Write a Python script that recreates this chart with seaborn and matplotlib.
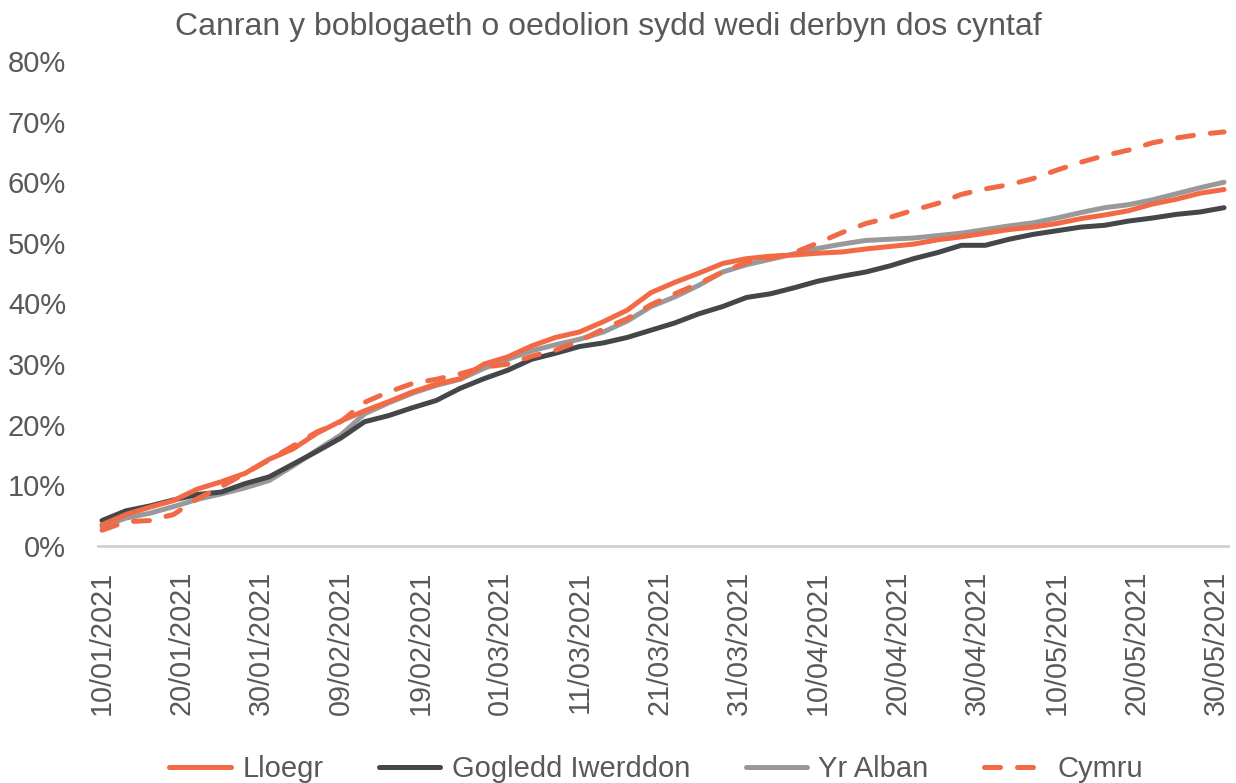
import matplotlib
matplotlib.use("Agg")
import matplotlib.pyplot as plt
import seaborn as sns
import pandas as pd

# ---- data (every 3 days from 10/01/2021) ----
start_date = "2021-01-10"
step_days = 3
lloegr = [3.5, 5.2, 6.4, 7.5, 9.4, 10.6, 12.0, 14.3, 16.0, 18.6, 20.6, 22.3, 23.8, 25.4, 26.7, 27.6,
          30.0, 31.2, 33.0, 34.4, 35.3, 37.0, 38.9, 41.8, 43.5, 45.0, 46.6, 47.4, 47.8, 48.0, 48.3, 48.5,
          49.0, 49.4, 49.8, 50.5, 51.0, 51.6, 52.2, 52.6, 53.2, 54.0, 54.6, 55.3, 56.4, 57.2, 58.2, 58.8]
gogledd_iwerddon = [4.2, 5.8, 6.6, 7.6, 8.5, 8.9, 10.3, 11.4, 13.5, 15.6, 17.8, 20.5, 21.5, 22.8, 24.0, 26.0,
                    27.6, 29.0, 30.8, 31.8, 32.9, 33.5, 34.4, 35.6, 36.8, 38.3, 39.5, 41.0, 41.6, 42.6, 43.7, 44.5,
                    45.2, 46.2, 47.4, 48.4, 49.6, 49.6, 50.6, 51.4, 52.0, 52.6, 52.9, 53.6, 54.1, 54.7, 55.1, 55.8]
yr_alban = [3.2, 4.6, 5.4, 6.5, 7.7, 8.6, 9.6, 10.8, 13.2, 15.8, 18.3, 21.8, 23.6, 25.2, 26.5, 27.5,
            29.3, 30.8, 32.2, 33.2, 34.1, 35.3, 37.1, 39.5, 41.1, 43.0, 45.2, 46.4, 47.3, 48.2, 49.1, 49.8,
            50.4, 50.6, 50.8, 51.2, 51.6, 52.2, 52.8, 53.3, 54.1, 55.0, 55.8, 56.3, 57.1, 58.1, 59.1, 60.0]
cymru = [2.6, 4.0, 4.2, 5.2, 7.8, 9.8, 12.0, 14.2, 16.5, 18.8, 20.5, 23.7, 25.4, 26.8, 27.5, 28.4,
         29.5, 30.0, 31.3, 32.3, 33.8, 35.8, 37.5, 39.8, 41.6, 43.3, 45.2, 46.8, 47.5, 48.4, 50.0, 51.7,
         53.2, 54.2, 55.4, 56.5, 58.0, 58.9, 59.6, 60.6, 62.0, 63.3, 64.4, 65.3, 66.5, 67.3, 67.9, 68.3]
series_names = ["Lloegr", "Gogledd Iwerddon", "Yr Alban", "Cymru"]
tick_labels = ["10/01/2021", "20/01/2021", "30/01/2021", "09/02/2021", "19/02/2021", "01/03/2021",
               "11/03/2021", "21/03/2021", "31/03/2021", "10/04/2021", "20/04/2021", "30/04/2021",
               "10/05/2021", "20/05/2021", "30/05/2021"]
y_ticks = [0, 10, 20, 30, 40, 50, 60, 70, 80]
title = "Canran y boblogaeth o oedolion sydd wedi derbyn dos cyntaf"

dates = pd.date_range(start_date, periods=len(lloegr), freq=f"{step_days}D")
frames = []
for name, vals in zip(series_names, [lloegr, gogledd_iwerddon, yr_alban, cymru]):
    frames.append(pd.DataFrame({"date": dates, "value": vals, "series": name}))
df = pd.concat(frames, ignore_index=True)

# ---- style ----
sns.set_theme(style="white")
plt.rcParams["font.family"] = ["Liberation Sans", "DejaVu Sans"]
text_col = "#595959"
colors = {"Lloegr": "#F26A45", "Gogledd Iwerddon": "#43474A", "Yr Alban": "#999999", "Cymru": "#F26A45"}
zorders = {"Lloegr": 4, "Gogledd Iwerddon": 3, "Yr Alban": 2, "Cymru": 5}

fig = plt.figure(figsize=(12.36, 7.83), dpi=100)
ax = fig.add_axes([98 / 1236, 1 - 546 / 783, (1228 - 98) / 1236, (546 - 61) / 783])

handles = {}
for name in series_names:
    sub = df[df["series"] == name]
    sns.lineplot(data=sub, x="date", y="value", ax=ax, color=colors[name], linewidth=3.6,
                 zorder=zorders[name], label=name, legend=False)
    ln = ax.lines[-1]
    ln.set_solid_capstyle("round")
    ln.set_solid_joinstyle("round")
    if name == "Cymru":
        ln.set_linestyle((0, (3.2, 3.4)))
        ln.set_dash_capstyle("round")
    handles[name] = ln

d0 = pd.Timestamp(start_date)
ax.set_xlim(d0 - pd.Timedelta(hours=12), d0 + pd.Timedelta(days=141.5))
ax.set_ylim(0, 80)

tick_dates = [pd.to_datetime(t, format="%d/%m/%Y") for t in tick_labels]
ax.set_xticks(tick_dates)
ax.set_xticklabels(tick_labels, rotation=90, fontsize=20.7, color=text_col)
minor = [d0 + pd.Timedelta(days=4.5 + 10 * k) for k in range(14)] + [d0 + pd.Timedelta(days=139.5)]
ax.set_xticks(minor, minor=True)
ax.tick_params(axis="x", which="major", length=0, pad=18)
ax.tick_params(axis="x", which="minor", length=7, width=1.5, color="#D0D0D0", direction="out")

ax.set_yticks(y_ticks)
ax.set_yticklabels([f"{v}%" for v in y_ticks], fontsize=21, color=text_col)
ax.tick_params(axis="y", length=0, pad=23)

for s in ["top", "right", "left"]:
    ax.spines[s].set_visible(False)
ax.spines["bottom"].set_color("#D0D0D0")
ax.spines["bottom"].set_linewidth(2)
ax.set_xlabel("")
ax.set_ylabel("")
ax.grid(False)

fig.text(608 / 1236, 1 - 27 / 783, title, ha="center", va="center", fontsize=23, color=text_col)

leg = fig.legend([handles[n] for n in series_names], series_names, loc="center", ncol=4,
                 bbox_to_anchor=(656 / 1236, 14 / 783), frameon=False, fontsize=21,
                 handlelength=2.1, handletextpad=0.4, columnspacing=1.9, labelcolor=text_col)

fig.savefig("out.png", dpi=100)
